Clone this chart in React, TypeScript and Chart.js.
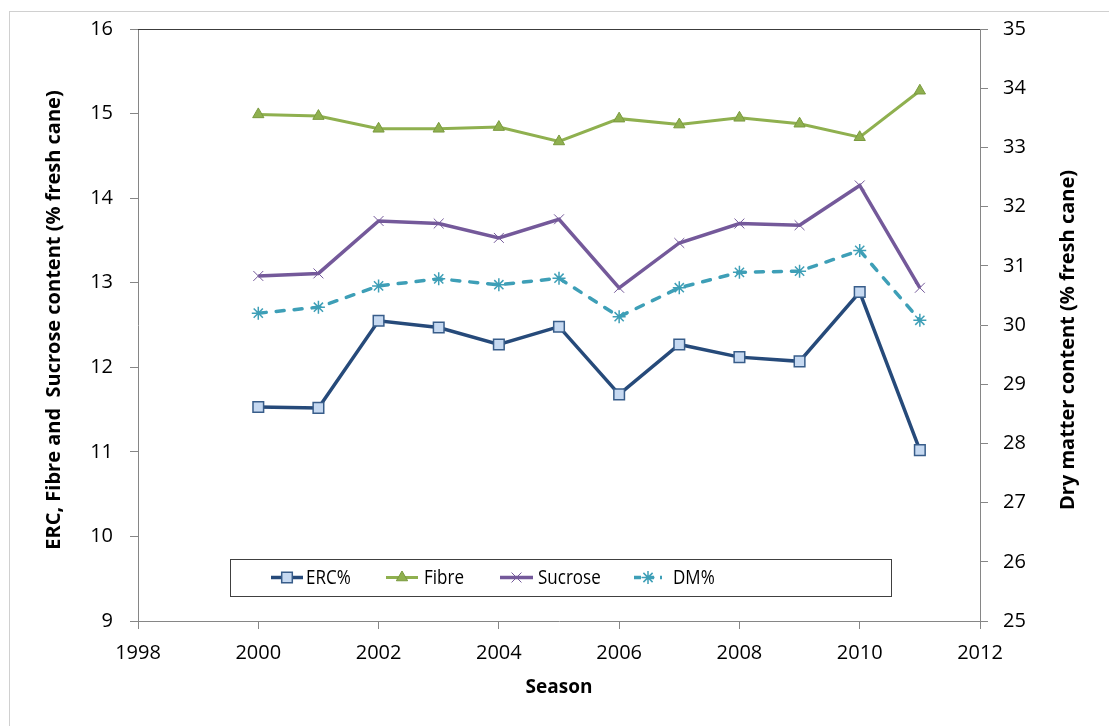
import React, { useEffect, useRef } from 'react';
import { Chart, registerables } from 'chart.js';

Chart.register(...registerables);

const seasons = [2000, 2001, 2002, 2003, 2004, 2005, 2006, 2007, 2008, 2009, 2010, 2011];
const ercValues = [11.53, 11.52, 12.55, 12.47, 12.27, 12.48, 11.68, 12.27, 12.12, 12.07, 12.89, 11.02];
const fibreValues = [14.99, 14.97, 14.82, 14.82, 14.84, 14.67, 14.94, 14.87, 14.95, 14.88, 14.72, 15.27];
const sucroseValues = [13.08, 13.11, 13.73, 13.70, 13.53, 13.75, 12.94, 13.47, 13.70, 13.68, 14.15, 12.94];
const dmValues = [30.20, 30.30, 30.66, 30.78, 30.68, 30.79, 30.14, 30.63, 30.89, 30.91, 31.26, 30.08];

const xRange = [1998, 2012];
const xStep = 2;
const leftRange = [9, 16];
const rightRange = [25, 35];

const leftTitle = 'ERC, Fibre and  Sucrose content (% fresh cane)';
const rightTitle = 'Dry matter content (% fresh cane)';
const xTitle = 'Season';

const FONT = '"Open Sans", "Noto Sans", sans-serif';

function toPoints(values: number[]) {
  return seasons.map((s, i) => ({ x: s, y: values[i] }));
}

function drawMarker(ctx: CanvasRenderingContext2D, style: string, x: number, y: number, r: number, fill: string, stroke: string, lw: number) {
  ctx.save();
  ctx.setLineDash([]);
  ctx.lineWidth = lw;
  ctx.fillStyle = fill;
  ctx.strokeStyle = stroke;
  ctx.beginPath();
  if (style === 'rect') {
    const s = Math.SQRT1_2 * r;
    ctx.rect(x - s, y - s, 2 * s, 2 * s);
    ctx.fill();
    ctx.stroke();
  } else if (style === 'triangle') {
    ctx.moveTo(x, y - r);
    ctx.lineTo(x + r * Math.sin(Math.PI / 3), y + r * 0.5);
    ctx.lineTo(x - r * Math.sin(Math.PI / 3), y + r * 0.5);
    ctx.closePath();
    ctx.fill();
    ctx.stroke();
  } else if (style === 'crossRot') {
    const d = Math.SQRT1_2 * r;
    ctx.moveTo(x - d, y - d);
    ctx.lineTo(x + d, y + d);
    ctx.moveTo(x - d, y + d);
    ctx.lineTo(x + d, y - d);
    ctx.stroke();
  } else if (style === 'star') {
    const d = Math.SQRT1_2 * r;
    ctx.moveTo(x - d, y - d);
    ctx.lineTo(x + d, y + d);
    ctx.moveTo(x - d, y + d);
    ctx.lineTo(x + d, y - d);
    ctx.moveTo(x, y - r);
    ctx.lineTo(x, y + r);
    ctx.moveTo(x - r, y);
    ctx.lineTo(x + r, y);
    ctx.stroke();
  }
  ctx.restore();
}

const decorPlugin = {
  id: 'decor',
  beforeDraw(chart: any) {
    const ctx = chart.ctx as CanvasRenderingContext2D;
    ctx.save();
    ctx.fillStyle = '#ffffff';
    ctx.fillRect(0, 0, chart.width, chart.height);
    ctx.strokeStyle = '#d0d0d0';
    ctx.lineWidth = 1;
    ctx.strokeRect(9.5, 11.5, chart.width + 20, chart.height + 20);
    ctx.restore();
  },
  afterDraw(chart: any) {
    const ctx = chart.ctx as CanvasRenderingContext2D;
    const a = chart.chartArea;
    ctx.save();
    ctx.strokeStyle = '#3c3c3c';
    ctx.lineWidth = 1;
    ctx.beginPath();
    ctx.moveTo(a.left, a.top + 0.5);
    ctx.lineTo(a.right, a.top + 0.5);
    ctx.stroke();

    ctx.fillStyle = '#000';
    ctx.font = `bold 20px ${FONT}`;
    ctx.textAlign = 'center';
    ctx.textBaseline = 'middle';
    ctx.save();
    ctx.translate(54, 320);
    ctx.rotate(-Math.PI / 2);
    ctx.fillText(leftTitle, 0, 0);
    ctx.restore();
    ctx.save();
    ctx.translate(1068, 340);
    ctx.rotate(-Math.PI / 2);
    ctx.fillText(rightTitle, 0, 0);
    ctx.restore();
    ctx.font = `bold 19px ${FONT}`;
    ctx.fillText(xTitle, (a.left + a.right) / 2, 688);

    const bx = 230, by = 559, bw = 661, bh = 37;
    ctx.fillStyle = '#fff';
    ctx.fillRect(bx, by, bw, bh);
    ctx.strokeStyle = '#404040';
    ctx.strokeRect(bx + 0.5, by + 0.5, bw, bh);
    const ly = by + bh / 2;
    const items = [
      { x1: 271, x2: 303, tx: 306 },
      { x1: 386, x2: 418, tx: 424 },
      { x1: 500, x2: 533, tx: 538 },
      { x1: 634, x2: 662, tx: 673 },
    ];
    chart.data.datasets.forEach((ds: any, i: number) => {
      const it = items[i];
      ctx.save();
      ctx.strokeStyle = ds.borderColor;
      ctx.lineWidth = ds.borderWidth;
      ctx.lineCap = 'butt';
      ctx.setLineDash(ds.borderDash ? [7, 6] : []);
      ctx.beginPath();
      ctx.moveTo(it.x1, ly);
      ctx.lineTo(it.x2, ly);
      ctx.stroke();
      ctx.restore();
      drawMarker(ctx, ds.pointStyle, (it.x1 + it.x2) / 2, ly, ds.pointRadius, ds.pointBackgroundColor, ds.pointBorderColor, ds.pointBorderWidth);
      ctx.save();
      ctx.translate(it.tx, ly);
      ctx.scale(0.85, 1);
      ctx.fillStyle = '#000';
      ctx.font = `20px ${FONT}`;
      ctx.textAlign = 'left';
      ctx.textBaseline = 'middle';
      ctx.fillText(ds.label, 0, 1);
      ctx.restore();
    });
    ctx.restore();
  },
};

export default function App() {
  const ref = useRef<HTMLCanvasElement | null>(null);
  useEffect(() => {
    if (!ref.current) return;
    const tickFont = { family: FONT, size: 20 };
    const axisGrid = { drawOnChartArea: false, drawTicks: true, tickLength: 8, color: '#868686' };
    const axisBorder = { display: true, color: '#868686', width: 1 };
    const chart = new Chart(ref.current, {
      type: 'line',
      data: {
        datasets: [
          {
            label: 'ERC%',
            data: toPoints(ercValues),
            yAxisID: 'y',
            borderColor: '#264A7A',
            borderWidth: 3.5,
            pointStyle: 'rect',
            pointRadius: 7.5,
            pointBackgroundColor: '#C6D9F1',
            pointBorderColor: '#385D8A',
            pointBorderWidth: 1.5,
          },
          {
            label: 'Fibre',
            data: toPoints(fibreValues),
            yAxisID: 'y',
            borderColor: '#8FB04F',
            borderWidth: 3,
            pointStyle: 'triangle',
            pointRadius: 6.5,
            pointBackgroundColor: '#8FB04F',
            pointBorderColor: '#7A9A3E',
            pointBorderWidth: 1,
          },
          {
            label: 'Sucrose',
            data: toPoints(sucroseValues),
            yAxisID: 'y',
            borderColor: '#74599A',
            borderWidth: 3.5,
            pointStyle: 'crossRot',
            pointRadius: 7,
            pointBackgroundColor: '#74599A',
            pointBorderColor: '#74599A',
            pointBorderWidth: 1,
          },
          {
            label: 'DM%',
            data: toPoints(dmValues),
            yAxisID: 'y1',
            borderColor: '#3E9FB7',
            borderWidth: 3.5,
            borderDash: [8, 10],
            borderCapStyle: 'round',
            pointStyle: 'star',
            pointRadius: 6.5,
            pointBackgroundColor: '#3E9FB7',
            pointBorderColor: '#3E9FB7',
            pointBorderWidth: 1.5,
          },
        ],
      },
      options: {
        animation: false,
        responsive: false,
        devicePixelRatio: 1,
        layout: { padding: { top: 27, left: 0, right: 0, bottom: 0 } },
        plugins: { legend: { display: false }, tooltip: { enabled: false } },
        elements: { line: { tension: 0 } },
        scales: {
          x: {
            type: 'linear',
            min: xRange[0],
            max: xRange[1],
            ticks: { stepSize: xStep, color: '#000', font: tickFont, padding: 12, callback: (v: any) => String(v) },
            grid: axisGrid,
            border: axisBorder,
            afterFit: (s: any) => { s.height = 105; },
          },
          y: {
            type: 'linear',
            position: 'left',
            min: leftRange[0],
            max: leftRange[1],
            ticks: { stepSize: 1, color: '#000', font: tickFont, padding: 17 },
            grid: axisGrid,
            border: axisBorder,
            afterFit: (s: any) => { s.width = 138; },
          },
          y1: {
            type: 'linear',
            position: 'right',
            min: rightRange[0],
            max: rightRange[1],
            ticks: { stepSize: 1, color: '#000', font: tickFont, padding: 15 },
            grid: axisGrid,
            border: axisBorder,
            afterFit: (s: any) => { s.width = 129; },
          },
        },
      },
      plugins: [decorPlugin],
    });
    return () => chart.destroy();
  }, []);
  return (
    <div style={{ position: 'absolute', left: 0, top: 0, width: 1109, height: 726, background: '#fff' }}>
      <canvas ref={ref} width={1109} height={726} style={{ width: 1109, height: 726 }} />
    </div>
  );
}
